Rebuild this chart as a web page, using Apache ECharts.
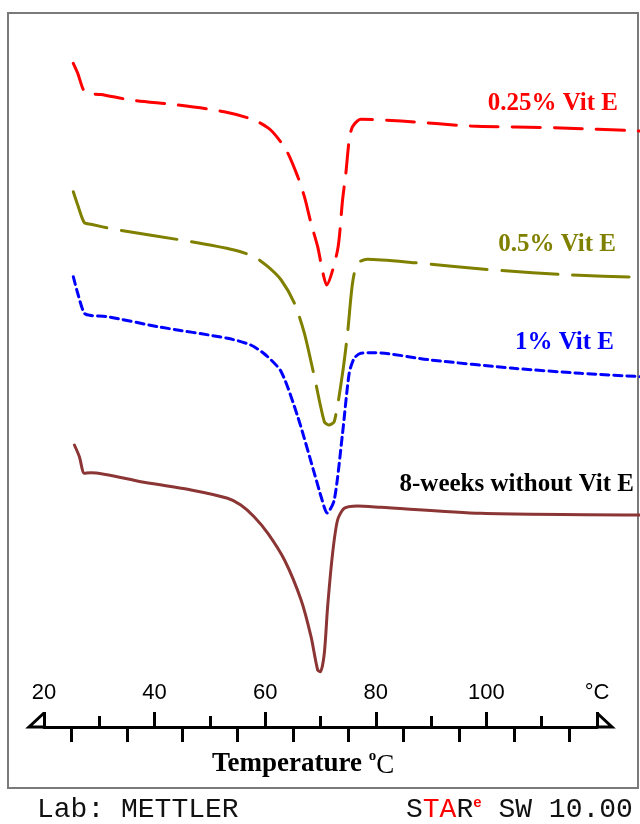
<!DOCTYPE html>
<html><head><meta charset="utf-8">
<script src="https://cdn.jsdelivr.net/npm/echarts@6/dist/echarts.min.js"></script>
<style>html,body{margin:0;padding:0;background:#fff}#c{width:640px;height:824px}</style>
</head><body><div id="c"></div>
<script>
// Temperature (°C) and heat flow (arbitrary units, endo down)
const redT  = [25.3, 26.1, 27.0, 27.6, 30.3, 35.7, 44.2, 52.6, 58.0, 61.0, 63.8, 65.9, 67.1, 68.3, 69.5, 70.4, 71.1, 73.1, 74.0, 74.6, 75.2, 75.8, 77.3, 84.6, 97.2, 113.5, 128.0];
const redHF = [63.67, 62.67, 61.17, 60.67, 60.55, 60.0, 59.5, 58.83, 58.0, 57.0, 55.0, 52.33, 50.33, 47.67, 45.33, 42.83, 41.5, 45.0, 50.0, 52.7, 56.0, 57.33, 58.07, 57.9, 57.4, 57.2, 56.9];

const oliveT  = [25.3, 26.1, 27.3, 28.5, 32.7, 46.6, 54.4, 58.0, 60.5, 62.9, 65.3, 67.1, 68.9, 70.7, 71.5, 72.5, 74.0, 74.9, 75.8, 76.7, 78.5, 87.0, 101.4, 115.3, 128.0];
const oliveHF = [50.83, 49.5, 47.73, 47.57, 47.07, 45.83, 45.0, 44.33, 43.33, 42.0, 39.67, 36.67, 32.33, 27.83, 27.5, 27.83, 32.67, 36.67, 41.67, 43.67, 44.07, 43.73, 43.0, 42.5, 42.27];

const blueT  = [25.3, 26.1, 27.3, 28.5, 31.5, 40.6, 53.2, 57.4, 60.1, 62.9, 65.9, 68.9, 70.3, 71.2, 72.5, 74.0, 75.2, 76.1, 77.3, 79.7, 90.0, 105.0, 117.1, 128.0];
const blueHF = [42.33, 40.67, 38.67, 38.45, 38.33, 37.33, 36.17, 35.5, 34.5, 32.83, 28.33, 22.67, 20.0, 18.7, 20.0, 26.67, 32.67, 34.17, 34.67, 34.73, 34.0, 33.17, 32.67, 32.33];

const brownT  = [25.5, 26.4, 27.3, 28.5, 37.5, 46.6, 53.2, 55.6, 58.0, 60.5, 63.5, 66.5, 68.3, 69.5, 70.0, 70.7, 71.3, 72.2, 73.1, 74.3, 76.7, 80.9, 99.0, 128.0];
const brownHF = [25.5, 24.33, 22.67, 22.73, 21.83, 21.0, 20.17, 19.5, 18.33, 16.67, 14.0, 10.0, 6.33, 3.0, 2.83, 4.67, 9.33, 14.67, 18.0, 19.17, 19.4, 19.27, 18.67, 18.5];

const seriesNames = ['0.25% Vit E', '0.5% Vit E', '1% Vit E', '8-weeks without Vit E'];
const tickLabels = {20:'20', 40:'40', 60:'60', 80:'80', 100:'100', 120:'°C'};

const zip = (a, b) => a.map((v, i) => [v, b[i]]);
const chart = echarts.init(document.getElementById('c'), null, {renderer: 'canvas'});

const tickStyle = {color: '#000', width: 3};
function lineSeries(name, T, HF, color, dash) {
  return {
    name, type: 'line', xAxisIndex: 0, yAxisIndex: 0, data: zip(T, HF),
    showSymbol: false, smooth: 0.25, silent: true,
    lineStyle: {color, width: 3, type: dash, cap: 'round'}
  };
}

chart.setOption({
  animation: false,
  backgroundColor: '#fff',
  grid: [
    {left: 44, right: 0, top: 20, height: 680},
    {left: 44, width: 553, top: 726, height: 1},
    {left: 71.65, width: 497.7, top: 726, height: 1}
  ],
  xAxis: [
    {gridIndex: 0, type: 'value', min: 20, max: 127.8, show: false},
    {gridIndex: 1, type: 'value', min: 20, max: 120, interval: 20,
     axisLine: {show: true, lineStyle: {color: '#000', width: 3}},
     axisTick: {show: true, inside: true, length: 15, lineStyle: tickStyle},
     minorTick: {show: true, splitNumber: 2, length: 11, lineStyle: tickStyle},
     axisLabel: {inside: true, margin: 23, color: '#000', fontSize: 22, fontFamily: 'Liberation Sans',
                 formatter: v => tickLabels[v] || ''},
     splitLine: {show: false}},
    {gridIndex: 2, type: 'value', min: 25, max: 115, interval: 10,
     axisLine: {show: false},
     axisTick: {show: true, inside: false, length: 15, lineStyle: tickStyle},
     axisLabel: {show: false}, splitLine: {show: false}}
  ],
  yAxis: [
    {gridIndex: 0, type: 'value', min: 0, max: 68, show: false},
    {gridIndex: 1, type: 'value', min: 0, max: 1, show: false},
    {gridIndex: 2, type: 'value', min: 0, max: 1, show: false}
  ],
  series: [
    lineSeries(seriesNames[0], redT, redHF, '#ff0000', [28, 14]),
    lineSeries(seriesNames[1], oliveT, oliveHF, '#808000', [56, 15]),
    lineSeries(seriesNames[2], blueT, blueHF, '#0000ff', [8, 5]),
    lineSeries(seriesNames[3], brownT, brownHF, '#8b3535', 'solid')
  ]
});

const labelFont = 'bold 25px "Liberation Serif"';
const p20 = chart.convertToPixel({xAxisIndex: 1}, 20);
const p120 = chart.convertToPixel({xAxisIndex: 1}, 120);
const ay = chart.convertToPixel({yAxisIndex: 1}, 0);

chart.setOption({
  graphic: [
    {type: 'rect', shape: {x: 8, y: 13, width: 630, height: 775}, style: {fill: 'none', stroke: '#7a7a7a', lineWidth: 2}, silent: true},
    {type: 'polyline', shape: {points: [[p20, ay], [p20 - 15, ay], [p20, ay - 14]]}, style: {fill: 'none', stroke: '#000', lineWidth: 3}},
    {type: 'polyline', shape: {points: [[p120, ay], [p120 + 15, ay], [p120, ay - 14]]}, style: {fill: 'none', stroke: '#000', lineWidth: 3}},
    {type: 'text', right: 22, top: 91, style: {text: seriesNames[0], font: labelFont, fill: '#ff0000'}},
    {type: 'text', right: 24, top: 232, style: {text: seriesNames[1], font: labelFont, fill: '#808000'}},
    {type: 'text', right: 26, top: 330, style: {text: seriesNames[2], font: labelFont, fill: '#0000ff'}},
    {type: 'text', right: 6, top: 472, style: {text: seriesNames[3], font: labelFont, fill: '#000'}},
    {type: 'text', left: 212, top: 749, style: {
      text: '{t|Temperature }{o|o}{c|C}',
      rich: {
        t: {font: 'bold 27px "Liberation Serif"', fill: '#000', verticalAlign: 'middle'},
        o: {font: 'bold 15px "Liberation Serif"', fill: '#000', verticalAlign: 'top'},
        c: {font: '27px "Liberation Serif"', fill: '#000', verticalAlign: 'bottom'}
      }, lineHeight: 30}},
    {type: 'text', left: 37, top: 796, style: {text: 'Lab: METTLER', font: '28px "Liberation Mono"', fill: '#111'}},
    {type: 'text', left: 406, top: 796, style: {
      text: '{a|S}{r|TA}{a|R}{e|e}{a| SW 10.00}',
      rich: {
        a: {font: '28px "Liberation Mono"', fill: '#111'},
        r: {font: '28px "Liberation Mono"', fill: '#ff0000'},
        e: {font: 'bold 14px "Liberation Mono"', fill: '#ff0000', verticalAlign: 'top'}
      }}}
  ]
});
</script></body></html>
